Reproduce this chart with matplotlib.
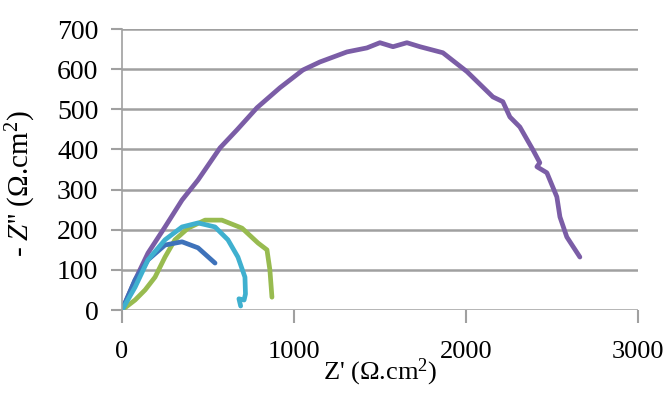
import matplotlib.pyplot as plt

# Nyquist curves: Z' and -Z'' in ohm.cm2
purple_x = [0, 76, 151, 250, 349, 442, 570, 669, 785, 919, 1052, 1151, 1308, 1424, 1500,
            1576, 1657, 1733, 1866, 2006, 2157, 2215, 2256, 2314, 2390, 2430, 2413, 2471,
            2529, 2547, 2587, 2663]
purple_y = [0, 75, 142, 207, 274, 324, 404, 449, 504, 554, 598, 618, 643, 653, 666,
            656, 666, 656, 641, 594, 531, 519, 481, 456, 399, 367, 357, 342,
            282, 232, 182, 132]

blue_x = [0, 76, 151, 250, 349, 442, 541]
blue_y = [0, 75, 125, 162, 170, 155, 117]

cyan_x = [0, 76, 151, 250, 349, 442, 541, 616, 674, 715, 718, 710, 680, 690]
cyan_y = [0, 57, 125, 175, 207, 217, 207, 175, 132, 82, 40, 25, 28, 10]

green_x = [0, 76, 134, 192, 250, 308, 384, 483, 581, 698, 791, 843, 860, 872]
green_y = [0, 25, 50, 82, 132, 175, 204, 224, 224, 204, 167, 150, 100, 32]

plt.rcParams['font.family'] = ['Liberation Serif', 'DejaVu Serif']
plt.rcParams['mathtext.fontset'] = 'custom'
plt.rcParams['mathtext.rm'] = 'Liberation Serif'
plt.rcParams['mathtext.it'] = 'Liberation Serif:italic'

fig = plt.figure(figsize=(6.69, 3.98), dpi=100)
ax = fig.add_axes([0.1824, 0.221, 0.771, 0.706])

ax.plot(purple_x, purple_y, color='#7B5DA6', linewidth=3.4, solid_capstyle='round')
ax.plot(green_x, green_y, color='#98BB50', linewidth=3.4, solid_capstyle='round')
ax.plot(blue_x, blue_y, color='#3E72BA', linewidth=3.4, solid_capstyle='round')
ax.plot(cyan_x, cyan_y, color='#3FB0CF', linewidth=3.4, solid_capstyle='round')

ax.set_xlim(0, 3000)
ax.set_ylim(0, 700)
ax.set_xticks([0, 1000, 2000, 3000])
ax.set_yticks(range(0, 701, 100))

ax.grid(axis='y', color='#A0A0A0', linewidth=1.8)
ax.set_axisbelow(True)
for s in ['top', 'right', 'bottom']:
    ax.spines[s].set_visible(False)
ax.spines['left'].set_color('#A0A0A0')
ax.spines['left'].set_linewidth(1.2)

ax.tick_params(axis='x', direction='out', length=9, width=1.5, color='#A0A0A0',
               labelsize=19, pad=13)
ax.tick_params(axis='y', direction='out', length=8, width=1.5, color='#A0A0A0',
               labelsize=20, pad=9)

ax.set_xlabel("Z' (Ω.cm$^{2}$)", fontsize=19, labelpad=-4)
ax.set_ylabel("- $\\mathit{Z}$'' (Ω.cm$^{2}$)", fontsize=21, labelpad=2)
ax.yaxis.set_label_coords(-0.163, 0.45)

fig.savefig('out.png', dpi=100)
